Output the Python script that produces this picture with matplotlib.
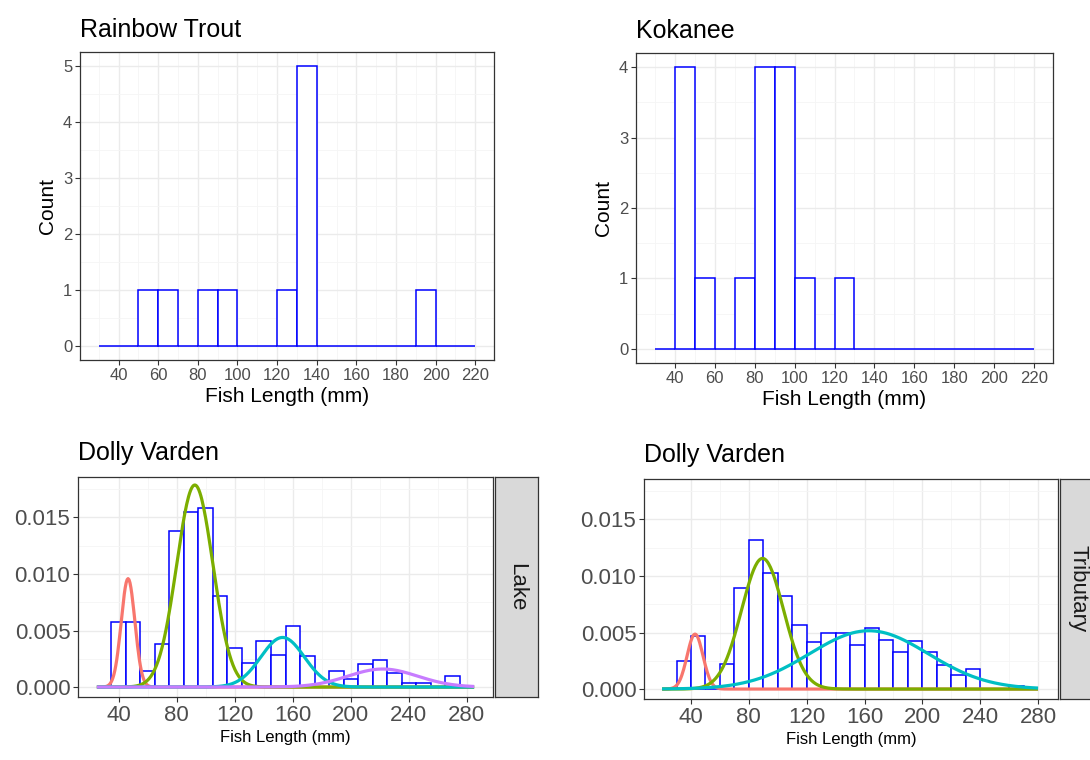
import numpy as np
import matplotlib
matplotlib.use("Agg")
import matplotlib.pyplot as plt

plt.rcParams["font.family"] = ["Liberation Sans", "DejaVu Sans"]

# ---- data ----
length_bins = [30, 40, 50, 60, 70, 80, 90, 100, 110, 120, 130, 140, 150,
               160, 170, 180, 190, 200, 210]
trout_counts = [0, 0, 1, 1, 0, 1, 1, 0, 0, 1, 5, 0, 0, 0, 0, 0, 1, 0, 0]
kokanee_counts = [0, 4, 1, 0, 1, 4, 4, 1, 0, 1, 0, 0, 0, 0, 0, 0, 0, 0, 0]

lake_bins = [35, 45, 55, 65, 75, 85, 95, 105, 115, 125, 135, 145, 155, 165,
             175, 185, 195, 205, 215, 225, 235, 245, 255, 265]
lake_density = [0.00576, 0.00576, 0.00138, 0.00379, 0.01382, 0.0155, 0.0158,
                0.00809, 0.00344, 0.00212, 0.00409, 0.0028, 0.0054, 0.00276,
                0.0, 0.00138, 0.0007, 0.00206, 0.00235, 0.0012, 0.00035,
                0.00035, 0.0, 0.001]

trib_bins = [30, 40, 50, 60, 70, 80, 90, 100, 110, 120, 130, 140, 150, 160,
             170, 180, 190, 200, 210, 220, 230, 240, 250, 260]
trib_density = [0.00244, 0.00465, 0.0, 0.0022, 0.0089, 0.01318, 0.01024,
                0.00824, 0.00568, 0.0042, 0.00494, 0.00494, 0.0039, 0.0054,
                0.00435, 0.0033, 0.00426, 0.00324, 0.00215, 0.00126, 0.00176,
                0.0, 0.0, 0.0003]

# mixture components: mean, sd, proportion
lake_mu = [46.5, 92.5, 153, 222]
lake_sd = [4.7, 12.5, 15, 24]
lake_lambda = [0.113, 0.56, 0.165, 0.096]

trib_mu = [42.8, 89.5, 163]
trib_sd = [5.5, 14.5, 41]
trib_lambda = [0.067, 0.42, 0.53]

comp_colors = ["#F8766D", "#7CAE00", "#00BFC4", "#C77CFF"]

W, H = 1090, 760
BIN = 10


def px_axes(fig, left, top, right, bottom):
    return fig.add_axes([left / W, 1 - bottom / H, (right - left) / W,
                         (bottom - top) / H])


def style_axes(ax, labelsize):
    ax.set_facecolor("white")
    for s in ax.spines.values():
        s.set_color("#333333")
        s.set_linewidth(0.9)
    ax.grid(True, which="major", color="#EBEBEB", lw=1.0, zorder=0)
    ax.grid(True, which="minor", color="#F5F5F5", lw=0.6, zorder=0)
    ax.set_axisbelow(True)
    ax.tick_params(which="major", length=3.5, width=0.8, color="#333333",
                   labelsize=labelsize, labelcolor="#4D4D4D", pad=2)
    ax.tick_params(which="minor", length=0)


def count_panel(fig, rect, title, counts):
    ax = px_axes(fig, *rect)
    style_axes(ax, 12)
    ax.bar(length_bins, counts, width=BIN, align="edge", facecolor="white",
           edgecolor="blue", linewidth=1.1, zorder=2)
    ax.set_xlim(20.5, 229.5)
    ymax = max(counts)
    ax.set_ylim(-0.05 * ymax, 1.05 * ymax)
    ax.set_xticks(range(40, 221, 20))
    ax.set_xticks(range(30, 221, 20), minor=True)
    ax.set_yticks(range(0, ymax + 1))
    ax.set_yticks(np.arange(0.5, ymax, 1), minor=True)
    ax.set_xlabel("Fish Length (mm)", fontsize=15, labelpad=3)
    ax.set_ylabel("Count", fontsize=15, labelpad=4)
    ax.set_title(title, loc="left", fontsize=18, pad=11)
    return ax


def density_panel(fig, rect, strip_rect, strip_label, bins, density,
                  mus, sds, lambdas, xlim, xrange):
    ax = px_axes(fig, *rect)
    style_axes(ax, 16)
    ax.bar(bins, density, width=BIN, align="edge", facecolor="white",
           edgecolor="blue", linewidth=1.1, zorder=2)
    x = np.linspace(xrange[0], xrange[1], 400)
    for i, (mu, sd, lam) in enumerate(zip(mus, sds, lambdas)):
        y = lam * np.exp(-0.5 * ((x - mu) / sd) ** 2) / (sd * np.sqrt(2 * np.pi))
        ax.plot(x, y, color=comp_colors[i], lw=2.3, zorder=3 + i,
                solid_capstyle="butt")
    ax.set_xlim(*xlim)
    ax.set_ylim(-0.00088, 0.01858)
    ax.set_xticks(range(40, 281, 40))
    ax.set_xticks(range(60, 281, 40), minor=True)
    ax.set_yticks([0, 0.005, 0.010, 0.015])
    ax.set_yticklabels(["0.000", "0.005", "0.010", "0.015"])
    ax.set_yticks([0.0025, 0.0075, 0.0125, 0.0175], minor=True)
    ax.set_xlabel("Fish Length (mm)", fontsize=12, labelpad=3)
    ax.set_title("Dolly Varden", loc="left", fontsize=18, pad=12)

    sx = px_axes(fig, *strip_rect)
    sx.set_facecolor("#D9D9D9")
    sx.set_xticks([])
    sx.set_yticks([])
    for s in sx.spines.values():
        s.set_color("#333333")
        s.set_linewidth(0.9)
    sx.text(0.5, 0.5, strip_label, rotation=-90, ha="center", va="center",
            fontsize=16, color="#1A1A1A", transform=sx.transAxes)
    return ax


fig = plt.figure(figsize=(W / 100, H / 100), dpi=100)

count_panel(fig, (80, 52, 494, 360), "Rainbow Trout", trout_counts)
count_panel(fig, (636, 53, 1053, 363), "Kokanee", kokanee_counts)

density_panel(fig, (78, 477, 493, 697), (495, 477, 538, 697), "Lake",
              lake_bins, lake_density, lake_mu, lake_sd, lake_lambda,
              (12, 298), (25, 285))
density_panel(fig, (644, 479, 1058, 699), (1060, 479, 1095, 699), "Tributary",
              trib_bins, trib_density, trib_mu, trib_sd, trib_lambda,
              (7.5, 293.8), (20, 280))

fig.savefig("out.png", dpi=100)
